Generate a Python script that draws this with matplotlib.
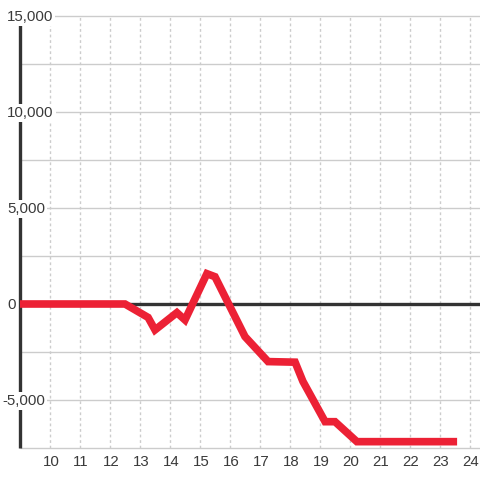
import matplotlib
matplotlib.use("Agg")
import matplotlib.pyplot as plt

# data
hours = [9, 12.5, 13.27, 13.5, 14.23, 14.5, 15.23, 15.5, 16.5, 17.27, 18.17, 18.43, 19.17, 19.5, 20.23, 23.57]
values = [0, 0, -700, -1350, -450, -830, 1580, 1420, -1700, -3000, -3030, -4030, -6130, -6130, -7170, -7170]
x_ticks = list(range(10, 25))
y_ticks = [15000, 10000, 5000, 0, -5000]
y_tick_labels = ["15,000", "10,000", "5,000", "0", "-5,000"]
y_grid = [15000, 12500, 10000, 7500, 5000, 2500, -2500, -5000, -7500]

plt.rcParams['font.family'] = ['Liberation Sans', 'DejaVu Sans']

fig = plt.figure(figsize=(4.8, 4.8), dpi=100)
ax = fig.add_axes([0, 0, 1, 1])
xmin, xmax = 9 - 20 / 30, 9 + 460 / 30
ymin, ymax = -176 / 19.2 * 1000, 15000 + 16 / 19.2 * 1000
ax.set_xlim(xmin, xmax)
ax.set_ylim(ymin, ymax)
ax.axis('off')

grid_c = '#cccccc'
text_c = '#3a3a3a'
# horizontal gridlines
ax.hlines(y_grid, 9, xmax, color=grid_c, lw=1, zorder=1)
# vertical dashed gridlines
ax.vlines(x_ticks, -7500, 15000, color=grid_c, lw=1, linestyles=(0, (2, 2)), zorder=1)
# zero line
ax.hlines([0], 9, xmax, color='#333333', lw=2.4, zorder=2)
# left axis
ax.vlines([9], -7500, 15000, color='#333333', lw=2.4, zorder=2)

# series
ax.plot(hours, values, color='#ec2135', lw=5.5, solid_capstyle='butt', solid_joinstyle='miter', zorder=3)

# y labels
for v, lab in zip(y_ticks, y_tick_labels):
    x0 = 9 + (7 - 20) / 30 if not lab.startswith('-') else 9 + (2 - 20) / 30
    ax.text(x0, v - 50, lab, ha='left', va='center', fontsize=10.8, color=text_c, zorder=4,
            bbox=dict(facecolor='white', edgecolor='none', pad=1.5))
# x labels
for t in x_ticks:
    ax.text(t + 0.03, -8250, str(t), ha='center', va='center', fontsize=10.8, color=text_c, zorder=4)

fig.savefig('out.png', dpi=100, facecolor='white')
